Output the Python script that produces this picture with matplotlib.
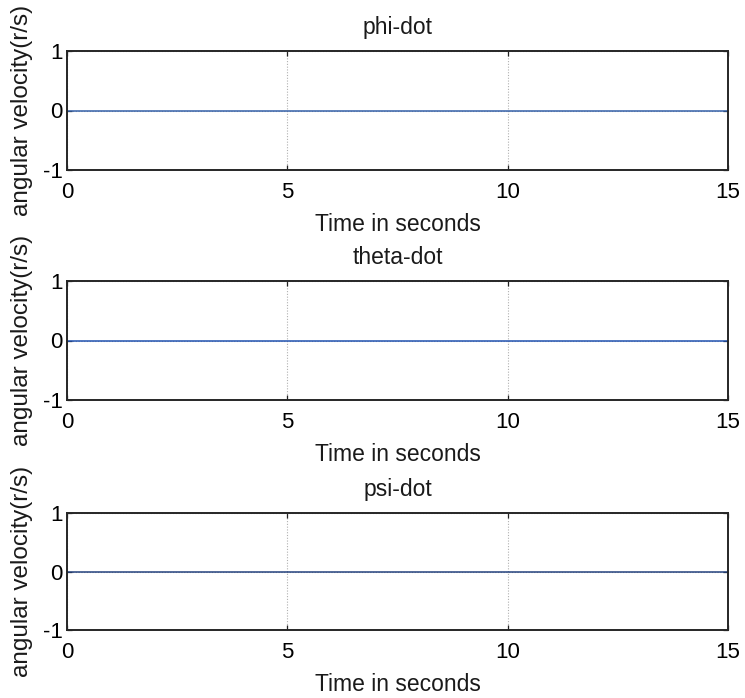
import matplotlib
matplotlib.use("Agg")
import matplotlib.pyplot as plt
from matplotlib import font_manager

installed = {f.name for f in font_manager.fontManager.ttflist}
NARROW = 'Liberation Sans Narrow' if 'Liberation Sans Narrow' in installed else 'Liberation Sans'
plt.rcParams['font.family'] = [NARROW, 'DejaVu Sans']
plt.rcParams['axes.unicode_minus'] = False

# simulation time and angular rates (all stay at zero)
time_s = [0.0, 15.0]
phi_dot = [0.0, 0.0]
theta_dot = [0.0, 0.0]
psi_dot = [0.0, 0.0]

titles = ['phi-dot', 'theta-dot', 'psi-dot']
series = [phi_dot, theta_dot, psi_dot]
colors = ['#3460a8', '#2152b0', '#24427e']
x_ticks = [0, 5, 10, 15]
y_ticks = [-1, 0, 1]

fig = plt.figure(figsize=(7.45, 6.98), dpi=100)
W, H = 745, 698
# axes boxes in pixels: (left, top, right, bottom)
boxes = [(67, 51, 728, 170), (67, 281, 728, 400), (67, 513, 728, 630)]

for (l, t, r, b), title, vals, col in zip(boxes, titles, series, colors):
    ax = fig.add_axes([l / W, 1 - b / H, (r - l) / W, (b - t) / H])
    ax.plot(time_s, vals, color=col, lw=1.1)
    ax.set_xlim(0, 15)
    ax.set_ylim(-1, 1)
    ax.set_xticks(x_ticks)
    ax.set_yticks(y_ticks)
    ax.grid(True, linestyle=(0, (1, 1.5)), color='#b0b0b0', lw=0.8)
    ax.tick_params(direction='in', top=True, right=True, length=3.5,
                   labelsize=16, width=0.9, color='#222222')
    ax.tick_params(axis='x', pad=8.5)
    ax.tick_params(axis='y', pad=3)
    for s in ax.spines.values():
        s.set_linewidth(1.4)
        s.set_color('#262626')
    ax.set_title(title, fontsize=16.5, pad=12, color='#1a1a1a')
    ax.set_xlabel('Time in seconds', fontsize=16.5, labelpad=7, color='#1a1a1a')
    ax.set_ylabel('angular velocity(r/s)', fontsize=17.5,
                  family=['Liberation Sans', 'DejaVu Sans'], color='#1a1a1a')
    ax.yaxis.set_label_coords(-0.051, 0.5)

fig.savefig('out.png', dpi=100)
